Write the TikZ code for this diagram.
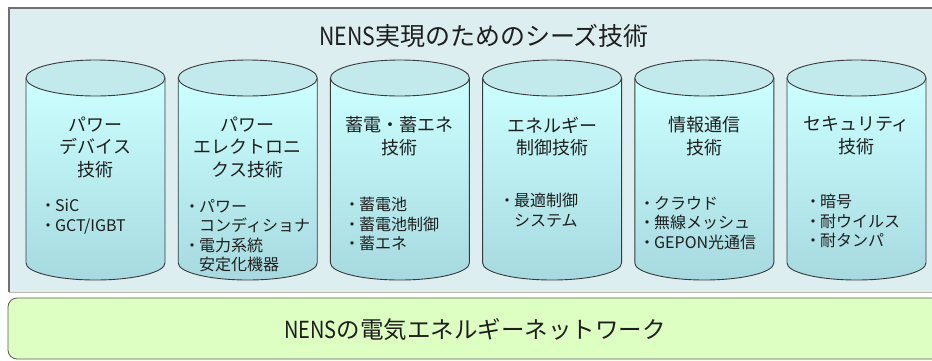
\documentclass[tikz,border=0pt]{standalone}
\usepackage{fontspec}
\setmainfont{Noto Sans CJK JP}
\definecolor{outerfill}{HTML}{DCEEF0}
\definecolor{outeredge}{HTML}{707070}
\definecolor{greenfill}{HTML}{DDFFC2}
\definecolor{cyltop}{HTML}{CCFFFF}
\definecolor{cylbot}{HTML}{A6DADF}
\definecolor{cylcap}{HTML}{C2E9EB}
\definecolor{edge}{HTML}{3A3A3A}
\definecolor{txt}{HTML}{1E1E1E}
\newcommand{\nens}{\scalebox{0.85}[1]{NENS}}
\newcommand{\bul}{\makebox[12bp][l]{\kern-3bp ・}}
\newcommand{\ind}{\hspace*{12bp}}
\tikzset{
  lbl/.style={inner sep=0pt, anchor=north, align=center, text=txt,
    font=\fontsize{18bp}{22.5bp}\selectfont},
  itm/.style={inner sep=0pt, anchor=north west, align=left, text=txt,
    font=\fontsize{16bp}{19.5bp}\selectfont},
  cylline/.style={draw=edge, line width=0.9bp},
}
\begin{document}
\begin{tikzpicture}[x=1bp,y=-1bp]
\useasboundingbox (0,0) rectangle (932,360);
\clip (0,0) rectangle (932,360);
\fill[white] (0,0) rectangle (932,360);
% outer panel
\draw[draw=gray!55, fill=outerfill, line width=0.8bp] (9,8) rectangle (945,292);
\draw[outeredge, line width=2bp] (9,292) -- (9,8) -- (945,8);
% bottom band
\draw[draw=gray!70!black, fill=greenfill, rounded corners=9bp, line width=0.8bp] (8,298) rectangle (960,359);
% cylinders
\foreach \i in {0,...,5} {
  \pgfmathsetmacro\L{26+152.2*\i}
  \pgfmathsetmacro\R{\L+139}
  \pgfmathsetmacro\C{\L+69.5}
  \shade[top color=cyltop, bottom color=cylbot]
    (\L,78) -- (\L,263) arc[start angle=180, end angle=0, x radius=69.5, y radius=17] -- (\R,78) -- cycle;
  \draw[cylline] (\L,78) -- (\L,263) arc[start angle=180, end angle=0, x radius=69.5, y radius=17] -- (\R,78);
  \draw[cylline, fill=cylcap] (\C,78) ellipse[x radius=69.5, y radius=18];
}
% title
\node[inner sep=0pt, text=txt, font=\fontsize{25bp}{30bp}\selectfont] (title) at (484,36) {\nens 実現のためのシーズ技術};
% labels
\node[lbl] (l1) at (95.5,116.5) {パワー\\デバイス\\技術};
\node[lbl] (l2) at (247.7,116.5) {パワー\\エレクトロニ\\クス技術};
\node[lbl] (l3) at (399.9,116.5) {蓄電・蓄エネ\\技術};
\node[lbl] (l4) at (552.1,116.5) {エネルギー\\制御技術};
\node[lbl] (l5) at (704.3,116.5) {情報通信\\技術};
\node[lbl] (l6) at (856.5,116.5) {セキュリティ\\技術};
% items
\node[itm] (i1) at (43,199) {\bul SiC\\\bul GCT/IGBT};
\node[itm] (i2) at (187,199) {\bul パワー\\\ind コンディショナ\\\bul 電力系統\\\ind 安定化機器};
\node[itm] (i3) at (347,197) {\bul 蓄電池\\\bul 蓄電池制御\\\bul 蓄エネ};
\node[itm] (i4) at (502,193) {\bul 最適制御\\\ind システム};
\node[itm] (i5) at (642,196) {\bul クラウド\\\bul 無線メッシュ\\\bul GEPON光通信};
\node[itm] (i6) at (808,194) {\bul 暗号\\\bul 耐ウイルス\\\bul 耐タンパ};
% bottom text
\node[inner sep=0pt, text=txt, font=\fontsize{23.5bp}{28bp}\selectfont] (net) at (475,330) {\nens の電気エネルギーネットワーク};
\end{tikzpicture}
\end{document}
